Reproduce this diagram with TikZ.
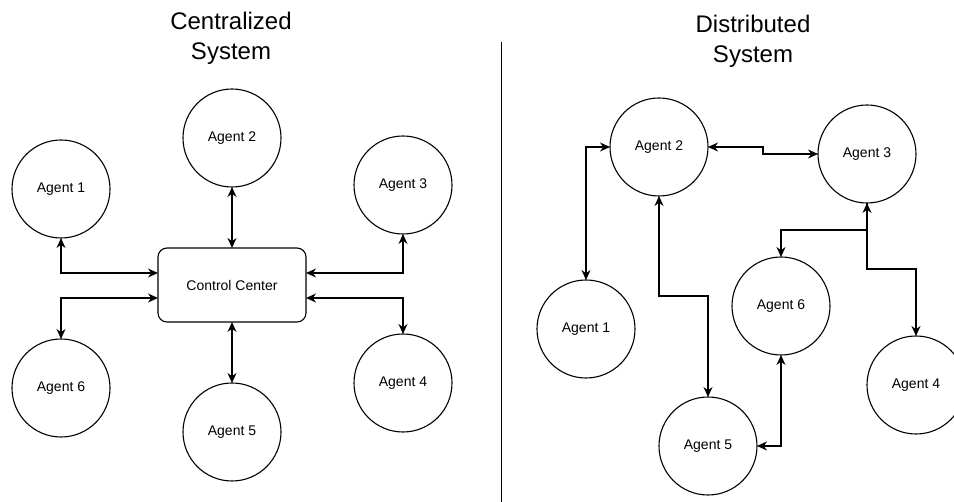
\documentclass[tikz,border=0pt]{standalone}
\usepackage{fontspec}
\setmainfont{Liberation Sans}
\usetikzlibrary{arrows.meta}
\begin{document}
\begin{tikzpicture}[x=1pt,y=-1pt,
  agent/.style={circle,draw,line width=1.1pt,minimum size=98pt,inner sep=0pt,outer sep=0pt,
    font=\fontsize{14}{17}\selectfont},
  hub/.style={rectangle,rounded corners=9pt,draw,line width=1.1pt,minimum width=148pt,
    minimum height=74pt,inner sep=0pt,outer sep=0pt,font=\fontsize{14}{17}\selectfont},
  heading/.style={align=center,inner sep=0pt,font=\fontsize{24}{30}\selectfont},
  link/.style={line width=1.3pt,{Stealth[length=10pt,width=9pt]}-{Stealth[length=10pt,width=9pt]}},
  onelink/.style={line width=1.3pt,-{Stealth[length=10pt,width=9pt]}},
  divider/.style={line width=1pt}]
\useasboundingbox (0,0) rectangle (954,502);
\clip (0,0) rectangle (954,502);

% ---------- centralized system ----------
\node[heading] (ctitle) at (231,38) {Centralized\\System};
\node[hub] (cc) at (232,285) {Control Center};
\node[agent] (a1) at (61,189) {Agent 1};
\node[agent] (a2) at (232,138) {Agent 2};
\node[agent] (a3) at (403,185) {Agent 3};
\node[agent] (a4) at (403,383) {Agent 4};
\node[agent] (a5) at (232,432) {Agent 5};
\node[agent] (a6) at (61,388) {Agent 6};

\draw[link] (a2.south) -- (cc.north);
\draw[link] (cc.south) -- (a5.north);
\draw[link] (a1.south) |- (cc.west |- 0,273);
\draw[link] (a6.north) |- (cc.west |- 0,298);
\draw[link] (a3.south) |- (cc.east |- 0,273);
\draw[link] (a4.north) |- (cc.east |- 0,298);

% ---------- separator ----------
\coordinate (septop) at (501,42);
\coordinate (sepbot) at (501,502);
\draw[divider] (septop) -- (sepbot);

% ---------- distributed system ----------
\node[heading] (dtitle) at (753,41) {Distributed\\System};
\node[agent] (d1) at (586,329) {Agent 1};
\node[agent] (d2) at (659,147) {Agent 2};
\node[agent] (d3) at (867,154) {Agent 3};
\node[agent] (d4) at (916,385) {Agent 4};
\node[agent] (d5) at (708,446) {Agent 5};
\node[agent] (d6) at (781,306) {Agent 6};

\draw[link] (d1.north) |- (d2.west);
\draw[link] (d2.east) -- ++(55,0) |- (d3.west);
\draw[link] (d2.south) -- (d2.south |- 0,296) -| (d5.north);
\draw[link] (d3.south) -- (d3.south |- 0,230) -| (d6.north);
\draw[onelink] (d3.south) -- (d3.south |- 0,269) -| (d4.north);
\draw[link] (d6.south) |- (d5.east);
\end{tikzpicture}
\end{document}
